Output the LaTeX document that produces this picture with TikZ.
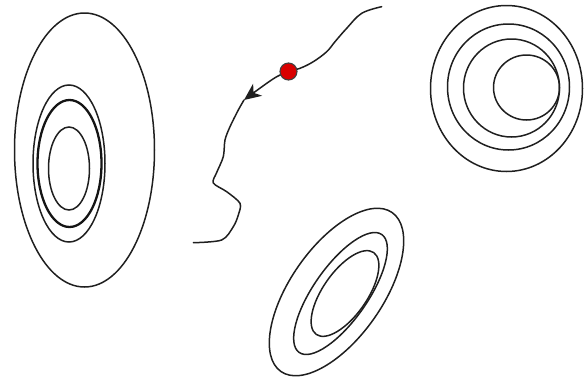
\documentclass[tikz,border=0pt]{standalone}
\usetikzlibrary{arrows.meta}
\tikzset{
  ring/.style={draw=black!88, line width=1.5pt},
  thickring/.style={draw=black!92, line width=2.3pt},
  curvepath/.style={draw=black!88, line width=1.5pt, line cap=round, line join=round},
  reddot/.style={circle, fill=red!85!black, draw=black!75, line width=1.1pt, minimum size=17pt, inner sep=0pt}
}
\begin{document}
\begin{tikzpicture}[x=1pt,y=-1pt]
\useasboundingbox (0,0) rectangle (584,381);
% left group
\draw[ring] (84.5,150) ellipse [x radius=70pt, y radius=137pt];
\draw[ring] (69,163.5) ellipse [x radius=36pt, y radius=78.5pt];
\draw[thickring] (69.5,163.5) ellipse [x radius=32pt, y radius=63.5pt];
\draw[ring] (69,168.5) ellipse [x radius=20.5pt, y radius=41.5pt];
% top right group
\draw[ring] (506.5,88.5) ellipse [x radius=76pt, y radius=83pt];
\draw[ring] (508.5,87) ellipse [x radius=61pt, y radius=63pt];
\draw[ring] (511.5,88) ellipse [x radius=48pt, y radius=49pt];
\draw[ring] (526.5,87.5) ellipse [x radius=33pt, y radius=32.5pt];
% bottom tilted group
\draw[ring, rotate around={55:(336.5,292)}] (336.5,292) ellipse [x radius=97pt, y radius=46pt];
\draw[ring, rotate around={55:(340.5,293.5)}] (340.5,293.5) ellipse [x radius=72pt, y radius=27pt];
\draw[ring, rotate around={55:(345,293.5)}] (345,293.5) ellipse [x radius=50pt, y radius=22pt];
% trajectory
\coordinate (start) at (381.7,6.7);
\coordinate (tip) at (244,100);
\coordinate (finish) at (193.3,242.7);
\draw[curvepath, -{Stealth[length=17pt,width=15pt,inset=5pt]}] plot[smooth, tension=0.6] coordinates {(start) (361.7,13.3) (346.7,28.3) (335,41.7) (326.7,51.7) (313.3,61.7) (300,68.3) (288.5,71.5) (273,79) (tip)};
\draw[curvepath] plot[smooth, tension=0.5] coordinates {(tip) (238.3,110) (230,126.7) (225,140) (223.3,156.7) (216.7,172.5) (213.3,183) (226.7,191.7) (240,203.3) (238.3,215) (233.3,226.7) (221.7,240) (finish)};
\node[reddot] (dot) at (288.5,71.5) {};
\end{tikzpicture}
\end{document}
